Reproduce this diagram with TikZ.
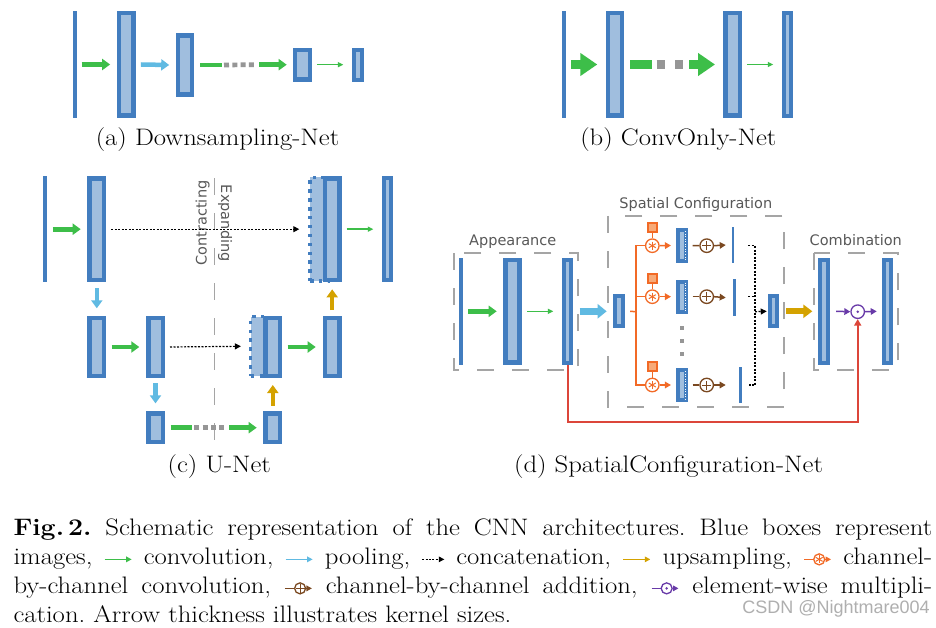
\documentclass[tikz,border=0pt]{standalone}
\usepackage{fontspec}
\setmainfont{Latin Modern Roman}[FakeStretch=1.12]
\newfontfamily\labelfont{DejaVu Sans}
\newfontfamily\markfont{Liberation Sans}
\usepackage{xcolor}
\usepackage{tikz}
\usetikzlibrary{arrows.meta,calc}
\definecolor{boxblue}{RGB}{66,125,191}
\definecolor{boxlight}{RGB}{160,190,222}
\definecolor{convgreen}{RGB}{61,190,73}
\definecolor{poolcyan}{RGB}{96,186,226}
\definecolor{upyellow}{RGB}{212,162,0}
\definecolor{chorange}{RGB}{242,106,38}
\definecolor{chlight}{RGB}{247,170,120}
\definecolor{addbrown}{RGB}{122,72,32}
\definecolor{mulpurple}{RGB}{104,58,168}
\definecolor{skipred}{RGB}{220,70,58}
\definecolor{framegray}{RGB}{165,165,165}
\definecolor{dotgray}{RGB}{150,150,150}
\definecolor{labelgray}{RGB}{88,88,88}
\definecolor{markgray}{RGB}{175,175,175}
\frenchspacing

\tikzset{
  img/.style 2 args={draw=boxblue, fill=boxlight, line width=4.5pt, inner sep=0pt,
    minimum width=#1pt-4.5pt, minimum height=#2pt-4.5pt},
  slim/.style 2 args={draw=boxblue, fill=boxlight, line width=4pt, inner sep=0pt,
    minimum width=#1pt-4pt, minimum height=#2pt-4pt},
  inimg/.style={fill=boxblue, inner sep=0pt, minimum width=4pt, minimum height=#1pt},
  catimg/.style={draw=boxblue, fill=boxlight, line width=3.5pt, dash pattern=on 3.5pt off 5.4pt, inner sep=0pt},
  kernbox/.style={draw=boxblue, fill=boxlight, line width=4pt, inner sep=0pt, minimum width=7.7pt, minimum height=30pt},
  kerndots/.style={draw=white, line width=0.9pt, dash pattern=on 0.9pt off 1.6pt},
  kernsq/.style={draw=chorange, fill=chlight, line width=2pt, inner sep=0pt, minimum size=9pt},
  chconv/.style={circle, draw=chorange, fill=white, line width=1.3pt, inner sep=0pt, minimum size=13.5pt,
    path picture={\foreach \a in {90,30,150}
      \draw[chorange, line width=1pt] (path picture bounding box.center) ++(\a:4pt) -- ++(\a+180:8pt);}},
  chadd/.style={circle, draw=addbrown, fill=white, line width=1.3pt, inner sep=0pt, minimum size=13.5pt,
    path picture={\draw[addbrown, line width=1pt]
      (path picture bounding box.center) ++(-4.5pt,0pt) -- ++(9pt,0pt)
      (path picture bounding box.center) ++(0pt,-4.5pt) -- ++(0pt,9pt);}},
  elmul/.style={circle, draw=mulpurple, fill=white, line width=1.3pt, inner sep=0pt, minimum size=13.5pt,
    path picture={\fill[mulpurple] (path picture bounding box.center) circle (1.4pt);}},
  vdot/.style={fill=dotgray, inner sep=0pt, minimum size=4.3pt},
  conv/.style={draw=convgreen, line width=4.7pt, -{Triangle[length=8pt,width=11pt]}},
  convbar/.style={draw=convgreen, line width=4.7pt},
  gapdots/.style={draw=dotgray, line width=4.7pt, dash pattern=on 5pt off 3.3pt},
  convthin/.style={draw=convgreen, line width=1.4pt, -{Triangle[length=5.5pt,width=5pt]}},
  convbig/.style={draw=convgreen, line width=9.3pt, -{Triangle[length=17pt,width=22pt]}},
  pool/.style={draw=poolcyan, line width=4.5pt, -{Triangle[length=8pt,width=11pt]}},
  poolbig/.style={draw=poolcyan, line width=6.5pt, -{Triangle[length=9pt,width=14pt]}},
  upsam/.style={draw=upyellow, line width=4.5pt, -{Triangle[length=8pt,width=11pt]}},
  upbig/.style={draw=upyellow, line width=6pt, -{Triangle[length=9pt,width=13pt]}},
  catline/.style={draw=black, line width=1.2pt, dash pattern=on 2pt off 1.5pt},
  cat/.style={catline, -{Triangle[length=6pt,width=6pt]}},
  chline/.style={draw=chorange, line width=1.5pt},
  charrow/.style={chline, -{Triangle[length=6pt,width=6.5pt]}},
  addline/.style={draw=addbrown, line width=1.5pt},
  addarrow/.style={addline, -{Triangle[length=6pt,width=6.5pt]}},
  mularrow/.style={draw=mulpurple, line width=1.5pt, -{Triangle[length=6pt,width=6.5pt]}},
  skipline/.style={draw=skipred, line width=2pt, -{Triangle[length=6.5pt,width=7pt]}},
  groupframe/.style={draw=framegray, line width=1.8pt, dash pattern=on 17pt off 18pt},
  divider/.style={draw=framegray, line width=1.5pt, dash pattern=on 16.7pt off 18.3pt},
  subcap/.style={anchor=base, inner sep=0pt, font=\fontsize{23.85}{29}\selectfont},
  capline/.style={anchor=base west, inner sep=0pt, font=\fontsize{23.85}{29}\selectfont},
  partlabel/.style={anchor=base, inner sep=0pt, text=labelgray, font=\labelfont\fontsize{14.5}{17}\selectfont},
  rotlabel/.style={inner sep=0pt, text=labelgray, font=\labelfont\fontsize{14.5}{17}\selectfont},
  wmark/.style={anchor=base, inner sep=0pt, text=markgray, font=\markfont\fontsize{18}{20}\selectfont},
  leg/.style={line width=1.5pt, -{Triangle[length=5.5pt,width=5.5pt]}},
}

\newcommand{\legconv}{\tikz[baseline=-0.5ex,x=1pt,y=1pt]\draw[leg,convgreen] (0,0) -- (27,0);}
\newcommand{\legpool}{\tikz[baseline=-0.5ex,x=1pt,y=1pt]\draw[leg,poolcyan] (0,0) -- (27,0);}
\newcommand{\legcat}{\tikz[baseline=-0.5ex,x=1pt,y=1pt]\draw[leg,black,line width=1.1pt,dash pattern=on 2pt off 1.3pt] (0,0) -- (22,0);}
\newcommand{\legup}{\tikz[baseline=-0.5ex,x=1pt,y=1pt]\draw[leg,upyellow] (0,0) -- (27,0);}
\newcommand{\legchconv}{\tikz[baseline=-0.5ex,x=1pt,y=1pt]{%
  \node[chconv,minimum size=11pt] (lgs) at (10,0) {};
  \draw[chline] (1,0) -- (lgs.west); \draw[leg,chorange] (lgs.east) -- (28,0);}}
\newcommand{\legchadd}{\tikz[baseline=-0.5ex,x=1pt,y=1pt]{%
  \node[chadd,minimum size=11pt] (lgp) at (10,0) {};
  \draw[addline] (1,0) -- (lgp.west); \draw[leg,addbrown] (lgp.east) -- (28,0);}}
\newcommand{\legmul}{\tikz[baseline=-0.5ex,x=1pt,y=1pt]{%
  \node[elmul,minimum size=11pt] (lgx) at (10,0) {};
  \draw[mulpurple,line width=1.5pt] (1,0) -- (lgx.west); \draw[leg,mulpurple] (lgx.east) -- (28,0);}}

\begin{document}
\begin{tikzpicture}[x=1pt,y=-1pt]
    \fill[white] (0,0) rectangle (936,628);
    \useasboundingbox (0,0) rectangle (936,628);

    % (a) Downsampling-Net
    \node[inimg=107] (ain) at (74.5,64.5) {};
    \node[img={19.3}{107}] (a1) at (126.3,64.5) {};
    \node[img={18.6}{63.4}] (a2) at (185,65) {};
    \node[img={19.6}{34}] (a3) at (302.5,64.7) {};
    \node[slim={12}{34}] (a4) at (358,64.7) {};
    \draw[conv] ([xshift=5pt]ain.east) -- ([xshift=-6.5pt]a1.west);
    \draw[pool] ([xshift=5pt]a1.east) -- ([xshift=-6.5pt]a2.west);
    \draw[convbar] ([xshift=5.7pt]a2.east) -- ++(22.3,0);
    \draw[gapdots] ([xshift=29.7pt]a2.east) -- ([xshift=-36pt]a3.west);
    \draw[conv] ([xshift=-33.7pt]a3.west) -- ([xshift=-6pt]a3.west);
    \draw[convthin] ([xshift=5pt]a3.east) -- ([xshift=-8.7pt]a4.west);
    \node[subcap] (capa) at (217.5,145.5) {(a) Downsampling-Net};

    % (b) ConvOnly-Net
    \node[inimg=107] (bin) at (563.7,64.5) {};
    \node[img={18.6}{107}] (b1) at (615,64.5) {};
    \node[img={19}{107}] (b2) at (732.8,64.5) {};
    \node[slim={10.4}{107}] (b3) at (787.5,64.5) {};
    \draw[convbig] ([xshift=5.3pt]bin.east) -- ([xshift=-8.4pt]b1.west);
    \draw[convbar, line width=9pt] ([xshift=5.7pt]b1.east) -- ++(21.7,0);
    \draw[gapdots, line width=8.3pt, dash pattern=on 8.3pt off 10pt] ([xshift=32.4pt]b1.east) -- ++(26.6,0);
    \draw[convbig] ([xshift=-34.3pt]b2.west) -- ([xshift=-8.3pt]b2.west);
    \draw[convthin] ([xshift=5pt]b2.east) -- ([xshift=-9pt]b3.west);
    \node[subcap] (capb) at (678.3,145.5) {(b) ConvOnly-Net};

    % (c) U-Net
    \draw[divider] (214.3,178.3) -- (214.3,442);
    \node[rotlabel, rotate=90] (contr) at (202.5,223) {Contracting};
    \node[rotlabel, rotate=-90] (expan) at (225,223.3) {Expanding};
    \node[inimg=106.3] (cin) at (45.3,229.2) {};
    \node[img={19}{106.3}] (c1) at (96.8,229.2) {};
    \node[catimg, minimum width=18pt, minimum height=103.5pt] (c2cat) at (319,229.2) {};
    \node[img={19}{106.3}] (c2) at (332.2,229.2) {};
    \node[slim={11.6}{106.3}] (c3) at (387.5,229.2) {};
    \node[img={19}{62.6}] (d1) at (96.8,347) {};
    \node[img={19}{62.6}] (d2) at (155.5,347) {};
    \node[catimg, minimum width=17.3pt, minimum height=59.3pt] (d3cat) at (259.3,346.3) {};
    \node[img={19}{62.6}] (d3) at (272.8,347) {};
    \node[img={19}{62.6}] (d4) at (332.2,347) {};
    \node[img={19}{33.3}] (e1) at (155.5,427.7) {};
    \node[img={19}{33.3}] (e2) at (272.8,427.7) {};
    \draw[conv] ([xshift=5.4pt]cin.east) -- ([xshift=-6.6pt]c1.west);
    \draw[cat] ([xshift=4.7pt]c1.east) -- ([xshift=-9pt]c2cat.west);
    \draw[convthin] ([xshift=5pt]c2.east) -- ([xshift=-8.4pt]c3.west);
    \draw[pool] ([yshift=-6pt]c1.south) -- ([yshift=7.4pt]d1.north);
    \draw[conv] ([xshift=5.4pt]d1.east) -- ([xshift=-6.7pt]d2.west);
    \draw[cat] ([xshift=5pt]d2.east) -- ([xshift=-8pt]d3cat.west);
    \draw[conv] ([xshift=5.4pt]d3.east) -- ([xshift=-7pt]d4.west);
    \draw[upsam] ([yshift=5.7pt]d4.north) -- ([yshift=-7pt]c2.south);
    \draw[pool] ([yshift=-5pt]d2.south) -- ([yshift=7.7pt]e1.north);
    \draw[convbar] ([xshift=5.7pt]e1.east) -- ++(21.6,0);
    \draw[gapdots] ([xshift=29.3pt]e1.east) -- ([xshift=-36.6pt]e2.west);
    \draw[conv] ([xshift=-34.3pt]e2.west) -- ([xshift=-6.6pt]e2.west);
    \draw[upsam] ([yshift=5.3pt]e2.north) -- ([yshift=-6.7pt]d3.south);
    \node[subcap] (capc) at (219.3,472.8) {(c) U-Net};

    % (d) SpatialConfiguration-Net
    \draw[groupframe] (454,253.3) rectangle (578.3,370);
    \draw[groupframe] (607.7,216) rectangle (784.3,406.7);
    \draw[groupframe] (814,253.3) rectangle (897.7,370);
    \node[partlabel] (appear) at (512.7,245.6) {Appearance};
    \node[partlabel] (spatial) at (695.8,209) {Spatial Configuration};
    \node[partlabel] (combine) at (855.8,245.6) {Combination};
    \node[inimg=107.3] (fin) at (461.2,311.3) {};
    \node[img={18.4}{107.3}] (f1) at (512.5,311.3) {};
    \node[slim={11.6}{107.3}] (f2) at (567.5,311.3) {};
    \node[slim={11.7}{34}] (g) at (619.2,311.3) {};
    \coordinate (fork) at (636,311.7);
    \node[chconv] (s1) at (652.3,245.7) {};
    \node[chconv] (s2) at (652.3,296.7) {};
    \node[chconv] (s3) at (652.3,385) {};
    \node[kernsq] (w1) at (652.3,227.3) {};
    \node[kernsq] (w2) at (652.3,278.3) {};
    \node[kernsq] (w3) at (652.3,366.6) {};
    \node[kernbox] (k1) at (681.8,245.5) {};
    \node[kernbox] (k2) at (681.8,296.7) {};
    \node[kernbox] (k3) at (681.8,385) {};
    \draw[kerndots] ([xshift=3.3pt,yshift=-3pt]k1.north) -- ([xshift=3.3pt,yshift=3pt]k1.south);
    \draw[kerndots] ([xshift=3.3pt,yshift=-3pt]k2.north) -- ([xshift=3.3pt,yshift=3pt]k2.south);
    \draw[kerndots] ([xshift=3.3pt,yshift=-3pt]k3.north) -- ([xshift=3.3pt,yshift=3pt]k3.south);
    \node[vdot] (v1) at (681.7,327.7) {};
    \node[vdot] (v2) at (681.7,341) {};
    \node[vdot] (v3) at (681.7,353.7) {};
    \node[chadd] (p1) at (706.7,245.7) {};
    \node[chadd] (p2) at (706.7,296.7) {};
    \node[chadd] (p3) at (706.7,385) {};
    \node[inimg=35.4, minimum width=2.8pt] (o1) at (733,245) {};
    \node[inimg=36.7, minimum width=2.8pt] (o2) at (734.7,297.6) {};
    \node[inimg=35.4, minimum width=2.8pt] (o3) at (740.3,385) {};
    \node[slim={11.6}{34}] (h) at (773.5,311.3) {};
    \node[slim={11.7}{107.3}] (m1) at (824.2,311.3) {};
    \node[slim={11.6}{107.3}] (m2) at (887.5,311.3) {};
    \node[elmul] (x) at (857.7,311.7) {};
    \coordinate (catin) at (748.3,311.7);
    \coordinate (catv) at (755,311.7);
    \draw[conv] ([xshift=5pt]fin.east) -- ([xshift=-6.6pt]f1.west);
    \draw[convthin] ([xshift=5.6pt]f1.east) -- ([xshift=-8.4pt]f2.west);
    \draw[poolbig] ([xshift=6.3pt]f2.east) -- ([xshift=-6.7pt]g.west);
    \draw[chline] ([xshift=5pt]g.east) -- (fork);
    \draw[chline] (s1.west) -| (fork) |- (s3.west);
    \draw[chline] (fork |- s2) -- (s2.west);
    \draw[chline] (w1) -- (s1);
    \draw[chline] (w2) -- (s2);
    \draw[chline] (w3) -- (s3);
    \draw[charrow] (s1.east) -- ([xshift=-5pt]k1.west);
    \draw[charrow] (s2.east) -- ([xshift=-5pt]k2.west);
    \draw[charrow] (s3.east) -- ([xshift=-5pt]k3.west);
    \draw[addline] ([xshift=5pt]k1.east) -- (p1.west);
    \draw[addline] ([xshift=5pt]k2.east) -- (p2.west);
    \draw[addline] ([xshift=5pt]k3.east) -- (p3.west);
    \draw[addarrow] (p1.east) -- ([xshift=-5.7pt]o1.west);
    \draw[addarrow] (p2.east) -- ([xshift=-7.4pt]o2.west);
    \draw[addarrow] (p3.east) -- ([xshift=-13pt]o3.west);
    \draw[catline] (catin |- s1) -- (catv |- s1) -- (catv |- s3) -- (catin |- s3);
    \draw[catline] (catin |- s2) -- (catv |- s2);
    \draw[cat] (catv) -- ([xshift=-1pt]h.west);
    \draw[upbig] ([xshift=6.7pt]h.east) -- ([xshift=-6pt]m1.west);
    \draw[mularrow] ([xshift=6pt]m1.east) -- (x.west);
    \draw[mularrow] (x.east) -- ([xshift=-5pt]m2.west);
    \draw[skipline] (f2.south) -- ++(0,56.7) -| (x.south);
    \node[subcap] (capd) at (668.5,472.8) {(d) SpatialConfiguration-Net};

    % caption
    \node[capline] (cap1) at (13.3,535.5) {\makebox[918.7pt][s]{\textbf{Fig.\,2.} Schematic representation of the CNN architectures. Blue boxes represent}};
    \node[capline] (cap2) at (13.3,564.5) {\makebox[918.7pt][s]{images, \legconv{} convolution, \legpool{} pooling, \legcat{} concatenation, \legup{} upsampling, \legchconv{} channel-}};
    \node[capline] (cap3) at (13.3,593.5) {\makebox[918.7pt][s]{by-channel convolution, \legchadd{} channel-by-channel addition, \legmul{} element-wise multipli-}};
    \node[capline] (cap4) at (13.3,622.5) {cation. Arrow thickness illustrates kernel sizes.};
    \node[wmark] (csdn) at (836,613) {CSDN @Nightmare004};
\end{tikzpicture}
\end{document}
